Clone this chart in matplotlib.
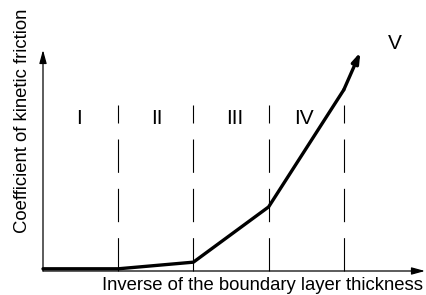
import matplotlib
matplotlib.use("Agg")
import matplotlib.pyplot as plt

plt.rcParams['font.family'] = ['Liberation Sans', 'DejaVu Sans']

# Data (abstract units)
curve_x = [0, 1, 2, 3, 4]
curve_y = [0.01, 0.01, 0.04, 0.29, 0.82]
arrow_tip = (4.22, 0.99)
boundaries = [1, 2, 3, 4]
boundary_top = 0.75
region_labels = ['I', 'II', 'III', 'IV']
region_label_x = [0.48, 1.52, 2.55, 3.47]
region_label_y = 0.69
last_label = 'V'
last_label_pos = (4.68, 1.03)
x_label = 'Inverse of the boundary layer thickness'
y_label = 'Coefficient of kinetic friction'

W, H = 427, 295
fig = plt.figure(figsize=(W / 100, H / 100), dpi=100)
ax = fig.add_axes([0, 0, 1, 1])
ox, oy = 43, 271
ux, uy = 75.2, 221
ax.set_xlim(-ox / ux, (W - ox) / ux)
ax.set_ylim(-(H - oy) / uy, oy / uy)
ax.axis('off')

# axes arrows
ax.annotate('', xy=((425 - ox) / ux, 0), xytext=(0, 0),
            arrowprops=dict(arrowstyle='-|>,head_length=0.8,head_width=0.22',
                            color='black', lw=0.9, shrinkA=0, shrinkB=0))
ax.annotate('', xy=(0, (oy - 50) / uy), xytext=(0, 0),
            arrowprops=dict(arrowstyle='-|>,head_length=0.8,head_width=0.22',
                            color='black', lw=0.9, shrinkA=0, shrinkB=0))

# dashed boundaries
for b in boundaries:
    ax.plot([b, b], [0, boundary_top], color='black', lw=0.8,
            linestyle=(0, (30, 14.4)), solid_capstyle='butt', dash_capstyle='butt')

# curve
ax.plot(curve_x, curve_y, color='black', lw=2.4, solid_joinstyle='round',
        solid_capstyle='round')
ax.annotate('', xy=arrow_tip, xytext=(curve_x[-1], curve_y[-1]),
            arrowprops=dict(arrowstyle='-|>,head_length=0.6,head_width=0.2',
                            color='black', lw=2.4, shrinkA=0, shrinkB=0))

for lab, x in zip(region_labels, region_label_x):
    ax.text(x, region_label_y, lab, ha='center', va='center', fontsize=15)
ax.text(last_label_pos[0], last_label_pos[1], last_label, ha='center', va='center', fontsize=15)

fig.text(263 / W, 1 - 285 / H, x_label, ha='center', va='center', fontsize=13.3)
fig.text(23 / W, 1 - 121 / H, y_label, ha='center', va='center', rotation=90, fontsize=13.3)

fig.savefig('out.png', dpi=100)
